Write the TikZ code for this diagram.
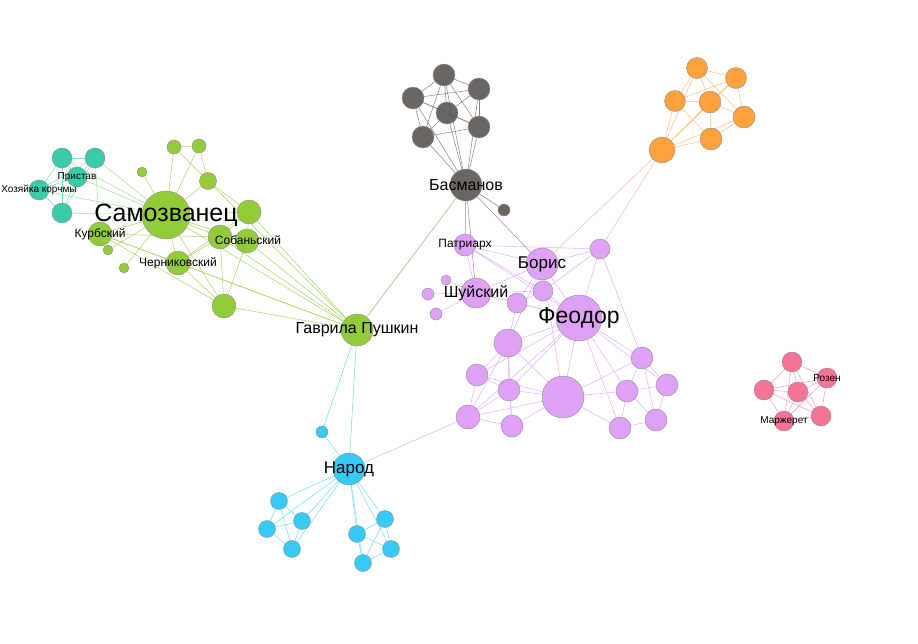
\documentclass[tikz,border=0pt]{standalone}
\usepackage{fontspec}
\setmainfont{Liberation Sans}
\usepackage{tikz}
\usetikzlibrary{backgrounds}
\definecolor{tealc}{HTML}{28C8A2}
\definecolor{greenc}{HTML}{8BC72A}
\definecolor{grayc}{HTML}{5F5955}
\definecolor{orangec}{HTML}{FF9A2C}
\definecolor{purplec}{HTML}{DC99F5}
\definecolor{pinkc}{HTML}{F2688D}
\definecolor{bluec}{HTML}{25C6F5}
\tikzset{
    % Basic node styles
    actor/.style={circle, draw=black!45, line width=0.4pt, inner sep=0pt, fill opacity=0.92, text opacity=1},
    teal actor/.style={actor, fill=tealc},
    green actor/.style={actor, fill=greenc},
    gray actor/.style={actor, fill=grayc},
    orange actor/.style={actor, fill=orangec},
    purple actor/.style={actor, fill=purplec},
    pink actor/.style={actor, fill=pinkc},
    blue actor/.style={actor, fill=bluec},
    % Label styles
    huge name/.style={font=\fontsize{25}{25}\selectfont},
    big name/.style={font=\fontsize{23}{23}\selectfont},
    mid name/.style={font=\fontsize{16}{16}\selectfont},
    large mid name/.style={font=\fontsize{17}{17}\selectfont},
    small name/.style={font=\fontsize{12}{12}\selectfont},
    tiny name/.style={font=\fontsize{10}{10}\selectfont},
    % Edge styles
    link/.style={line width=0.5pt},
    teal link/.style={link, tealc!60},
    green link/.style={link, greenc!75},
    gray link/.style={link, grayc!75},
    orange link/.style={link, orangec!65},
    purple link/.style={link, purplec!80},
    pink link/.style={link, pinkc!65},
    blue link/.style={link, bluec!65},
}

\begin{document}
\begin{tikzpicture}[x=1pt, y=-1pt]
    \useasboundingbox (0,0) rectangle (918,643);

    % Teal group
    \node[teal actor, minimum size=20] (t1) at (62,158) {};
    \node[teal actor, minimum size=20] (t2) at (95,158) {};
    \node[teal actor, minimum size=20, label={[tiny name]center:Пристав}] (prist) at (77,177) {};
    \node[teal actor, minimum size=20, label={[tiny name]center:Хозяйка корчмы}] (hoz) at (39,190) {};
    \node[teal actor, minimum size=20] (t5) at (62,213) {};

    % Green group
    \node[green actor, minimum size=48, label={[huge name]center:Самозванец}] (samo) at (166,215) {};
    \node[green actor, minimum size=24, label={[small name]center:Курбский}] (kurb) at (100,234) {};
    \node[green actor, minimum size=10] (g1) at (142,172) {};
    \node[green actor, minimum size=14] (g2) at (174,147) {};
    \node[green actor, minimum size=14] (g3) at (199,146) {};
    \node[green actor, minimum size=17] (g4) at (208,181) {};
    \node[green actor, minimum size=24] (g5) at (249,212) {};
    \node[green actor, minimum size=24] (sob1) at (220,237) {};
    \node[green actor, minimum size=24] (sob2) at (247,241) {};
    \node[small name] (sobl) at (248,240) {Собаньский};
    \node[green actor, minimum size=10] (g8) at (108,250) {};
    \node[green actor, minimum size=10] (g9) at (124,268) {};
    \node[green actor, minimum size=24, label={[small name]center:Черниковский}] (chern) at (178,263) {};
    \node[green actor, minimum size=24] (g10) at (224,306) {};
    \node[green actor, minimum size=32, label={[mid name]center:Гаврила Пушкин}] (gavr) at (357,330) {};

    % Gray group
    \node[gray actor, minimum size=32, label={[mid name]center:Басманов}] (bas) at (466,185) {};
    \node[gray actor, minimum size=12] (gs) at (504,210) {};
    \node[gray actor, minimum size=22] (gr1) at (444,75) {};
    \node[gray actor, minimum size=22] (gr2) at (479,89) {};
    \node[gray actor, minimum size=22] (gr3) at (413,98) {};
    \node[gray actor, minimum size=22] (gr4) at (447,113) {};
    \node[gray actor, minimum size=22] (gr5) at (479,127) {};
    \node[gray actor, minimum size=22] (gr6) at (423,137) {};

    % Orange group
    \node[orange actor, minimum size=21] (o1) at (697,68) {};
    \node[orange actor, minimum size=21] (o2) at (736,78) {};
    \node[orange actor, minimum size=21] (o3) at (675,101) {};
    \node[orange actor, minimum size=22] (o4) at (710,102) {};
    \node[orange actor, minimum size=22] (o5) at (744,117) {};
    \node[orange actor, minimum size=22] (o6) at (711,139) {};
    \node[orange actor, minimum size=26] (o7) at (662,150) {};

    % Purple group
    \node[purple actor, minimum size=22, label={[small name]center:Патриарх}] (pat) at (465,245) {};
    \node[purple actor, minimum size=32, label={[large mid name]center:Борис}] (bor) at (542,264) {};
    \node[purple actor, minimum size=20] (pa) at (600,249) {};
    \node[purple actor, minimum size=10] (pb) at (446,280) {};
    \node[purple actor, minimum size=12] (pc) at (428,294) {};
    \node[purple actor, minimum size=12] (pd) at (436,314) {};
    \node[purple actor, minimum size=20] (pe) at (543,291) {};
    \node[purple actor, minimum size=20] (pf) at (517,303) {};
    \node[purple actor, minimum size=30, label={[mid name]center:Шуйский}] (shu) at (476,293) {};
    \node[purple actor, minimum size=46, label={[big name]center:Феодор}] (feo) at (579,318) {};
    \node[purple actor, minimum size=28] (pg) at (508,343) {};
    \node[purple actor, minimum size=22] (ph) at (642,358) {};
    \node[purple actor, minimum size=22] (pi) at (477,375) {};
    \node[purple actor, minimum size=22] (pj) at (509,390) {};
    \node[purple actor, minimum size=42] (pk) at (563,397) {};
    \node[purple actor, minimum size=22] (pl) at (627,391) {};
    \node[purple actor, minimum size=22] (pm) at (667,385) {};
    \node[purple actor, minimum size=24] (pn) at (468,417) {};
    \node[purple actor, minimum size=22] (po) at (512,426) {};
    \node[purple actor, minimum size=22] (pp) at (620,428) {};
    \node[purple actor, minimum size=22] (pq) at (656,420) {};

    % Pink group
    \node[pink actor, minimum size=20] (k1) at (792,362) {};
    \node[pink actor, minimum size=20, label={[tiny name]center:Розен}] (rozen) at (827,378) {};
    \node[pink actor, minimum size=20] (k3) at (764,390) {};
    \node[pink actor, minimum size=20] (k4) at (798,392) {};
    \node[pink actor, minimum size=20] (k5) at (821,416) {};
    \node[pink actor, minimum size=20, label={[tiny name]center:Маржерет}] (marzh) at (784,421) {};

    % Blue group
    \node[blue actor, minimum size=32, label={[large mid name]center:Народ}] (nar) at (349,469) {};
    \node[blue actor, minimum size=12] (bs) at (322,432) {};
    \node[blue actor, minimum size=17] (b1) at (279,501) {};
    \node[blue actor, minimum size=17] (b2) at (302,521) {};
    \node[blue actor, minimum size=17] (b3) at (267,529) {};
    \node[blue actor, minimum size=17] (b4) at (292,549) {};
    \node[blue actor, minimum size=17] (b5) at (385,519) {};
    \node[blue actor, minimum size=17] (b6) at (357,534) {};
    \node[blue actor, minimum size=17] (b7) at (391,549) {};
    \node[blue actor, minimum size=17] (b8) at (363,563) {};

    % Edges
    \begin{scope}[on background layer]
        \foreach \a/\b in {t1/t2, t1/prist, t1/hoz, t1/t5, t2/prist, t2/hoz, t2/t5,
                           prist/hoz, prist/t5, hoz/t5}
            \draw[teal link] (\a) -- (\b);
        \foreach \a/\b in {t1/samo, t2/samo, prist/samo, hoz/samo, t5/samo, t2/kurb}
            \draw[link, tealc!40!greenc!60] (\a) -- (\b);
        \foreach \a/\b in {samo/kurb, samo/g1, samo/g2, samo/g3, samo/g4, samo/g5,
                           samo/sob1, samo/sob2, samo/g8, samo/g9, samo/chern, samo/g10,
                           samo/gavr, g2/g3, g2/g4, g3/g4, g4/g5, g4/gavr, g5/gavr,
                           sob1/gavr, sob2/gavr, chern/gavr, g10/gavr, kurb/gavr,
                           sob1/sob2, sob1/g5, sob2/g5, sob1/chern, sob1/g10, sob2/g10,
                           chern/g10, kurb/sob1, kurb/chern, kurb/g10, g5/chern}
            \draw[green link] (\a) -- (\b);
        \foreach \a/\b in {gr1/gr2, gr1/gr3, gr1/gr4, gr1/gr5, gr1/gr6, gr2/gr3,
                           gr2/gr4, gr2/gr5, gr3/gr4, gr3/gr5, gr3/gr6, gr4/gr5,
                           gr4/gr6, gr5/gr6, gr1/bas, gr2/bas, gr3/bas, gr4/bas,
                           gr5/bas, gr6/bas, bas/gs}
            \draw[gray link] (\a) -- (\b);
        \draw[link, grayc!50!greenc!70] (bas) -- (gavr);
        \foreach \a/\b in {bas/pat, bas/bor, bas/shu}
            \draw[link, grayc!40!purplec] (\a) -- (\b);
        \foreach \a/\b in {o1/o2, o1/o3, o1/o4, o1/o5, o1/o7, o2/o3, o2/o4, o2/o5,
                           o2/o7, o3/o4, o3/o6, o3/o7, o4/o5, o4/o6, o4/o7, o5/o6,
                           o5/o7, o6/o7}
            \draw[orange link] (\a) -- (\b);
        \foreach \a/\b in {o7/bor, o7/pa}
            \draw[link, pinkc!60!orangec!55] (\a) -- (\b);
        \foreach \a/\b in {pat/bor, pat/pa, pat/shu, pat/feo, pat/pe, bor/pa, bor/shu,
                           bor/feo, bor/pe, bor/pf, bor/pg, bor/pk, pa/feo, pa/ph,
                           pa/pe, shu/pb, shu/pc, shu/pd, shu/feo, shu/pf, shu/pe,
                           pe/feo, pf/feo, pe/pf, feo/pg, feo/pk, feo/ph, feo/pl,
                           feo/pm, feo/pi, feo/pn, feo/pp, feo/pj, pg/pi, pg/pj,
                           pg/pk, pg/pn, pg/po, pg/pf, pi/pj, pi/pn, pi/pk, pj/pk,
                           pj/pn, pj/po, pk/pn, pk/po, pk/pl, pk/pp, pk/ph, pl/pm,
                           pl/pp, pl/pq, pl/ph, pm/pq, pm/ph, pp/pq, ph/pq, pn/po}
            \draw[purple link] (\a) -- (\b);
        \foreach \a/\b in {k1/rozen, k1/k3, k1/k4, k1/k5, k1/marzh, rozen/k3,
                           rozen/k4, rozen/k5, rozen/marzh, k3/k4, k3/k5, k3/marzh,
                           k4/k5, k4/marzh, k5/marzh}
            \draw[pink link] (\a) -- (\b);
        \foreach \a/\b in {nar/bs, nar/b1, nar/b2, nar/b3, nar/b4, nar/b5, nar/b6,
                           nar/b7, nar/b8, b1/b2, b1/b3, b1/b4, b2/b3, b2/b4, b3/b4,
                           b5/b6, b5/b7, b5/b8, b6/b7, b6/b8, b7/b8}
            \draw[blue link] (\a) -- (\b);
        \foreach \a/\b in {gavr/nar, gavr/bs}
            \draw[link, tealc!65] (\a) -- (\b);
        \draw[link, bluec!50!purplec!70] (nar) -- (pn);
    \end{scope}
\end{tikzpicture}
\end{document}
